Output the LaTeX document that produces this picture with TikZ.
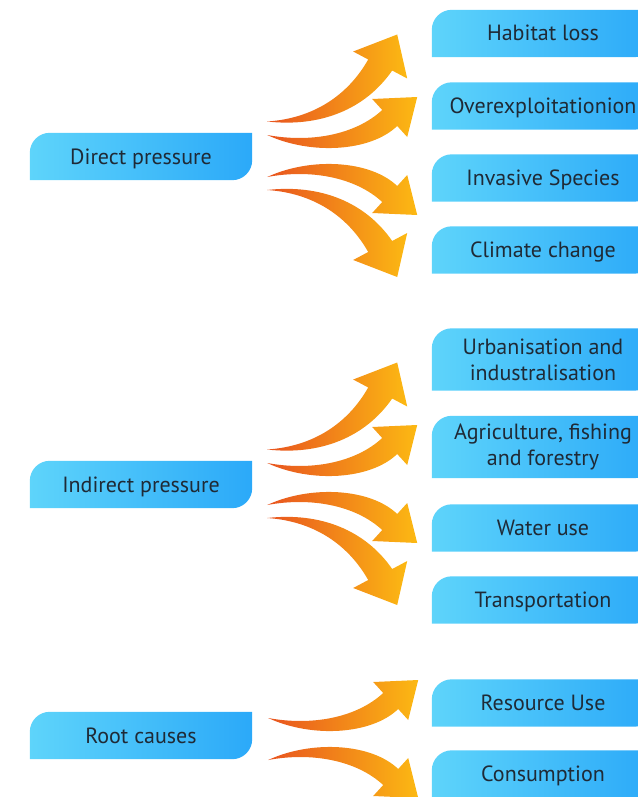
\documentclass[tikz,border=0pt]{standalone}
\usepackage{fontspec}
\setmainfont{PT Sans}
\usetikzlibrary{backgrounds}

\definecolor{boxlight}{HTML}{5ED4FA}
\definecolor{boxdark}{HTML}{2BA9F9}
\definecolor{arrowred}{HTML}{E8541F}
\definecolor{arrowgold}{HTML}{FCB913}
\definecolor{labeltext}{HTML}{1F2A36}

\tikzset{
  leaf/.style={minimum width=222pt, minimum height=47pt, inner sep=0pt,
    align=center, text=labeltext, font=\fontsize{22}{26}\selectfont},
  oneline/.style={leaf, text height=15pt, text depth=0pt},
  tallleaf/.style={leaf, minimum height=62pt},
  boxshade/.style={left color=boxlight, right color=boxdark},
  arrowshade/.style={left color=arrowred, right color=arrowgold},
  steeparrow/.pic={
    \shade[arrowshade] (0,0) .. controls (45,3) and (80,25) .. (101,62)
      -- (86,70) -- (130,87) -- (140,43) -- (125,51)
      .. controls (98,12) and (53,-6) .. (0,0) -- cycle;
  },
  flatarrow/.pic={
    \shade[arrowshade] (0,0) .. controls (43,-8) and (88,0) .. (115,25)
      -- (105,36) -- (150,38) -- (140,-2) -- (130,9)
      .. controls (103,-17) and (43,-20) .. (0,0) -- cycle;
  }
}

\begin{document}
\begin{tikzpicture}[x=1pt, y=1pt]
  \useasboundingbox (0,0) rectangle (637,-797);

  % left column
  \node[oneline] (dir) at (141,-156.5) {Direct pressure};
  \node[oneline] (ind) at (141,-484.5) {Indirect pressure};
  \node[oneline] (root) at (141,-735.5) {Root causes};

  % right column
  \node[oneline] (hab) at (543,-33.5) {Habitat loss};
  \node[oneline] (over) at (543,-106) {Overexploitationion};
  \node[oneline] (inv) at (543,-178) {Invasive Species};
  \node[oneline] (cli) at (543,-250) {Climate change};
  \node[tallleaf] (urb) at (543,-359.5) {Urbanisation and\\industralisation};
  \node[tallleaf] (agr) at (543,-447) {Agriculture, fishing\\and forestry};
  \node[oneline] (wat) at (543,-528) {Water use};
  \node[oneline] (tra) at (543,-600) {Transportation};
  \node[oneline] (res) at (543,-703) {Resource Use};
  \node[oneline] (con) at (543,-774) {Consumption};

  \begin{scope}[on background layer]
    \foreach \n in {dir,ind,root,hab,over,inv,cli,urb,agr,wat,tra,res,con}
      \shade[boxshade] (\n.south west) -- ([yshift=-20pt]\n.north west)
        arc[start angle=180, end angle=90, radius=20pt] -- (\n.north east)
        -- ([yshift=20pt]\n.south east)
        arc[start angle=0, end angle=-90, radius=20pt] -- cycle;
  \end{scope}

  % arrows
  \foreach \grp in {dir,ind} {
    \pic at ([shift={(15,35)}]\grp.east) {steeparrow};
    \pic at ([shift={(15,21.5)}]\grp.east) {flatarrow};
    \pic[yscale=-1] at ([shift={(15,-20.5)}]\grp.east) {flatarrow};
    \pic[yscale=-1] at ([shift={(15,-33.5)}]\grp.east) {steeparrow};
  }
  \pic at ([shift={(16,17.5)}]root.east) {flatarrow};
  \pic[yscale=-1] at ([shift={(16,-24.5)}]root.east) {flatarrow};
\end{tikzpicture}
\end{document}
